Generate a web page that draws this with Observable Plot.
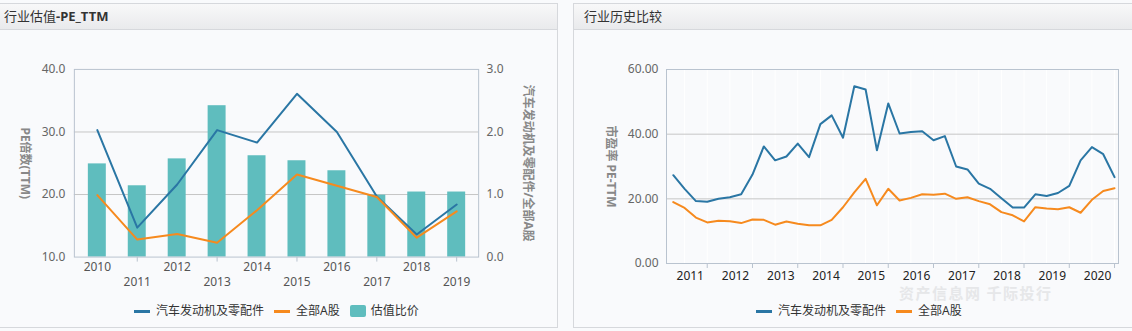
<!DOCTYPE html>
<html><head><meta charset="utf-8">
<script src="https://cdn.jsdelivr.net/npm/d3@7"></script>
<script src="https://cdn.jsdelivr.net/npm/@observablehq/plot@0.6"></script>
<style>
html,body{margin:0;padding:0;background:#f9fafc;width:1132px;height:331px;overflow:hidden;font-family:"Noto Sans","Noto Sans CJK SC",sans-serif;}
.panel{position:absolute;top:3px;height:325px;border:1px solid #d6d8dc;background:#f9fafc;box-sizing:border-box;}
.bar{position:absolute;left:0;right:0;top:0;height:25px;background:linear-gradient(#f8f8f9,#e9eaec);border-bottom:1px solid #d6d8dc;font-size:13px;color:#333;line-height:24px;}
.chart{position:absolute;top:24px;}
.legend{position:absolute;top:299px;height:16px;line-height:16px;display:flex;align-items:center;font-size:12px;color:#333;white-space:nowrap;}
.legend .sw{display:inline-block;width:16px;height:3px;margin-right:6px;}
.legend .sq{display:inline-block;width:16px;height:12px;border-radius:2px;margin-right:5px;}
.legend .item{display:flex;align-items:center;margin-right:10px;}
.wm{position:absolute;left:325px;top:281px;font-size:15px;line-height:15px;letter-spacing:1.5px;font-weight:bold;color:#e6e7e9;white-space:nowrap;font-family:"Noto Sans CJK SC",sans-serif;}
</style></head>
<body>
<div class="panel" id="p1" style="left:-1px;width:559px;">
  <div class="bar"><span style="margin-left:4px">行业估值<b>-PE_TTM</b></span></div>
  <div class="chart" id="c1" style="left:1px"></div>
  <div class="legend" style="left:134px">
    <span class="item"><span class="sw" style="background:#2a76a4"></span>汽车发动机及零配件</span>
    <span class="item"><span class="sw" style="background:#f68a1e"></span>全部A股</span>
    <span class="item"><span class="sq" style="background:#5fbdbe"></span>估值比价</span>
  </div>
</div>
<div class="panel" id="p2" style="left:573px;width:562px;">
  <div class="bar"><span style="margin-left:10px">行业历史比较</span></div>
  <div class="chart" id="c2" style="left:-1px"></div>
  <div class="wm">资产信息网 千际投行</div>
  <div class="legend" style="left:182px">
    <span class="item"><span class="sw" style="background:#2a76a4"></span>汽车发动机及零配件</span>
    <span class="item"><span class="sw" style="background:#f68a1e"></span>全部A股</span>
  </div>
</div>
<script>
// ---------- Left chart data ----------
const years = ["2010","2011","2012","2013","2014","2015","2016","2017","2018","2019"];
const industryPE = [30.3,14.7,21.6,30.3,28.3,36.1,30.0,19.7,13.6,18.4];
const allAPE = [19.9,12.8,13.7,12.3,17.5,23.2,21.4,19.6,13.1,17.3];
const ratio = [1.49,1.14,1.57,2.42,1.62,1.54,1.38,0.99,1.04,1.04];
const leftTicks = [10,20,30,40];

// ---------- Right chart data (quarterly, 2011Q1 .. 2020Q4) ----------
const histYears = ["2011","2012","2013","2014","2015","2016","2017","2018","2019","2020"];
const histIndustry = [27.3,23.1,19.3,19.1,20.0,20.5,21.4,27.5,36.2,31.9,33.1,37.1,32.9,43.1,45.8,38.9,
  54.8,53.8,35.0,49.5,40.2,40.7,40.9,38.1,39.4,30.0,29.1,24.7,23.1,20.2,17.3,17.3,21.4,20.9,21.8,24.0,31.9,36.0,33.8,26.7];
const histAllA = [19.0,17.2,14.2,12.7,13.2,13.1,12.5,13.6,13.5,12.0,13.0,12.3,11.8,11.8,13.5,17.4,
  22.0,26.2,18.0,23.1,19.5,20.3,21.4,21.3,21.6,20.0,20.5,19.3,18.3,15.9,14.9,13.0,17.4,17.0,16.8,17.4,15.7,19.7,22.4,23.3];
const rightTicks = [0,20,40,60];

const BLUE = "#2a76a4", ORANGE = "#f68a1e", TEAL = "#5fbdbe";
const FONT = "'Noto Sans','Noto Sans CJK SC',sans-serif";
const GRID = "#c6c6c6", FRAME = "#b9c3cf";

const leftData = years.map((year, i) => ({year, industry: industryPE[i], allA: allAPE[i], ratio: ratio[i]}));

const c1 = Plot.plot({
  width: 557, height: 276,
  marginLeft: 73, marginRight: 79, marginTop: 41, marginBottom: 47,
  x: {type: "band", domain: years, padding: 0},
  y: {domain: [10, 40]},
  style: {background: "transparent", fontFamily: FONT, fontSize: "12px", color: "#666", overflow: "visible"},
  marks: [
    Plot.gridY([20, 30], {stroke: GRID, strokeOpacity: 1}),
    Plot.barY(leftData, {x: "year", y1: 10, y2: d => 10 + d.ratio * 10, fill: TEAL, insetLeft: 11, insetRight: 11}),
    Plot.frame({stroke: FRAME}),
    Plot.lineY(leftData, {x: "year", y: "industry", stroke: BLUE, strokeWidth: 2}),
    Plot.lineY(leftData, {x: "year", y: "allA", stroke: ORANGE, strokeWidth: 2}),
    Plot.axisY({anchor: "left", ticks: leftTicks, tickFormat: d => d.toFixed(1), tickSize: 0, tickPadding: 9, label: null, fill: "#666"}),
    Plot.axisY({anchor: "right", ticks: leftTicks, tickFormat: d => ((d - 10) / 10).toFixed(1), tickSize: 0, tickPadding: 8, label: null, fill: "#666"}),
    Plot.axisX({ticks: years.filter((d, i) => i % 2 === 0), tickSize: 0, tickPadding: 5, label: null, fill: "#555"}),
    Plot.axisX({ticks: years.filter((d, i) => i % 2 === 1), tickSize: 5, tickPadding: 15, label: null, stroke: FRAME, fill: "#555"}),
    Plot.text(["PE倍数(TTM)"], {frameAnchor: "left", dx: -50, rotate: 90, textAnchor: "middle", text: d => d, fill: "#888", fontWeight: "bold", fontSize: 12}),
    Plot.text(["汽车发动机及零配件/全部A股"], {frameAnchor: "right", dx: 49, rotate: 90, textAnchor: "middle", text: d => d, fill: "#888", fontWeight: "bold", fontSize: 12})
  ]
});
document.getElementById("c1").appendChild(c1);

const rightData = histIndustry.map((v, i) => ({i, industry: v, allA: histAllA[i]}));
const yearEndIdx = histYears.map((y, k) => 4 * k + 3);
const yearMidIdx = histYears.map((y, k) => 4 * k + 1.5);
const halfIdx = rightData.filter(d => d.i % 2 === 1).map(d => d.i);

const c2 = Plot.plot({
  width: 560, height: 276,
  marginLeft: 93, marginRight: 15, marginTop: 41, marginBottom: 41,
  x: {type: "linear", domain: [-0.6, 39.35]},
  y: {domain: [0, 60]},
  style: {background: "transparent", fontFamily: FONT, fontSize: "12px", color: "#666", overflow: "visible"},
  marks: [
    Plot.ruleX(halfIdx, {stroke: "#ffffff", strokeWidth: 1}),
    Plot.gridY([20, 40], {stroke: GRID, strokeOpacity: 1}),
    Plot.frame({stroke: FRAME}),
    Plot.lineY(rightData, {x: "i", y: "industry", stroke: BLUE, strokeWidth: 2}),
    Plot.lineY(rightData, {x: "i", y: "allA", stroke: ORANGE, strokeWidth: 2}),
    Plot.axisY({anchor: "left", ticks: rightTicks, tickFormat: d => d.toFixed(2), tickSize: 0, tickPadding: 8, label: null, fill: "#666"}),
    Plot.axisX({ticks: yearEndIdx, tickFormat: () => "", tickSize: 5, label: null, stroke: FRAME}),
    Plot.axisX({ticks: yearMidIdx, tickFormat: (d) => histYears[(d - 1.5) / 4], tickSize: 0, tickPadding: 8, label: null, fill: "#222"}),
    Plot.text(["市盈率 PE-TTM"], {frameAnchor: "left", dx: -56, rotate: 90, textAnchor: "middle", text: d => d, fill: "#888", fontWeight: "bold", fontSize: 12})
  ]
});
document.getElementById("c2").appendChild(c2);
</script>
</body></html>
